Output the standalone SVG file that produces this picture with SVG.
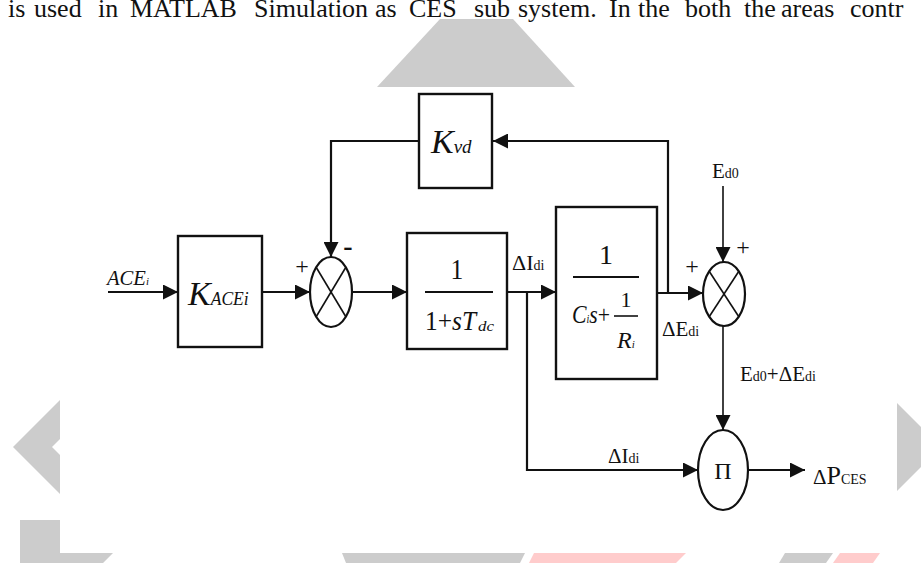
<svg xmlns="http://www.w3.org/2000/svg" width="921" height="563" viewBox="0 0 921 563">
<style>
.wm{fill:#cccccc}
.wp{fill:#ffcccc}
.blk{fill:#fff;stroke:#111;stroke-width:2.4}
.sum{fill:#fff;stroke:#111;stroke-width:2.2}
.ln{fill:none;stroke:#111;stroke-width:2.2}
.thin{fill:none;stroke:#111;stroke-width:1.6}
.t{font-family:"Liberation Serif","Times New Roman",serif;fill:#111}
.i{font-style:italic}
</style>
<defs>
<marker id="ah" viewBox="0 0 14 14" refX="14" refY="7" markerWidth="15" markerHeight="15" markerUnits="userSpaceOnUse" orient="auto">
<path d="M0,0 L14,7 L0,14 z" fill="#111"/>
</marker>
</defs>
<rect width="921" height="563" fill="#fff"/>
<g id="watermark">
<polygon class="wm" points="377,87 440,19 513,19 575,87"/>
<polygon class="wm" points="60,400 13,447 60,494 60,455 52,447 60,439"/>
<polygon class="wm" points="897,403 941,447 897,491"/>
<polygon class="wm" points="20,520 60,520 60,553 113,553 103,563 20,563"/>
<polygon class="wm" points="342,553 525,553 520,563 346,563"/>
<polygon class="wp" points="534,553 686,553 676,563 529,563"/>
<polygon class="wm" points="785,553 833,553 826,563 779,563"/>
<polygon class="wp" points="840,553 880,553 873,563 833,563"/>
</g>
<text class="t" y="17" font-size="26"><tspan x="8">is</tspan><tspan x="34">used</tspan><tspan x="98">in</tspan><tspan x="130">MATLAB</tspan><tspan x="254">Simulation</tspan><tspan x="375">as</tspan><tspan x="409">CES</tspan><tspan x="474">sub</tspan><tspan x="518">system.</tspan><tspan x="609">In</tspan><tspan x="638">the</tspan><tspan x="685">both</tspan><tspan x="744">the</tspan><tspan x="781">areas</tspan><tspan x="850">contr</tspan></text>
<g id="connectors">
<line class="ln" x1="108" y1="292" x2="178" y2="292" marker-end="url(#ah)"/>
<line class="ln" x1="262" y1="292" x2="310" y2="292" marker-end="url(#ah)"/>
<path class="ln" d="M668,293 V141 H493" marker-end="url(#ah)"/>
<path class="ln" d="M419,141 H331 V257" marker-end="url(#ah)"/>
<line class="ln" x1="352" y1="292" x2="407" y2="292" marker-end="url(#ah)"/>
<line class="ln" x1="507" y1="292" x2="556" y2="292" marker-end="url(#ah)"/>
<path class="ln" d="M527,292 V470 H698" marker-end="url(#ah)"/>
<line class="ln" x1="657" y1="293" x2="703" y2="293" marker-end="url(#ah)"/>
<line class="thin" x1="723" y1="186" x2="723" y2="262" marker-end="url(#ah)"/>
<line class="thin" x1="723" y1="326" x2="723" y2="430" marker-end="url(#ah)"/>
<line class="ln" x1="749" y1="470" x2="805" y2="470" marker-end="url(#ah)"/>
</g>
<g id="input">
<text class="t i" x="107" y="285" font-size="21" textLength="42" lengthAdjust="spacingAndGlyphs">ACE<tspan font-size="11">i</tspan></text>
</g>
<g id="kacei">
<rect class="blk" x="178" y="236" width="84" height="111"/>
<text class="t i" x="188" y="305" font-size="34">K<tspan font-size="19" textLength="38" lengthAdjust="spacingAndGlyphs">ACEi</tspan></text>
</g>
<g id="sum1">
<ellipse class="sum" cx="331" cy="292" rx="21" ry="35"/>
<line class="thin" x1="316" y1="267" x2="346" y2="317"/>
<line class="thin" x1="346" y1="267" x2="316" y2="317"/>
<text class="t" x="302" y="274" font-size="24" text-anchor="middle">+</text>
<text class="t" x="348" y="255" font-size="28" font-weight="bold" text-anchor="middle">-</text>
</g>
<g id="kvd">
<rect class="blk" x="419" y="94" width="73" height="94"/>
<text class="t i" x="431" y="153" font-size="34">K<tspan font-size="19">vd</tspan></text>
</g>
<g id="lag">
<rect class="blk" x="407" y="233" width="100" height="116"/>
<text class="t" x="457" y="279" font-size="30" text-anchor="middle" transform="translate(457 0) scale(0.85 1) translate(-457 0)">1</text>
<line class="ln" x1="425" y1="292" x2="493" y2="292"/>
<text class="t" x="425" y="330" font-size="28" textLength="51" lengthAdjust="spacingAndGlyphs">1+<tspan class="i">sT</tspan></text>
<text class="t i" x="478" y="331" font-size="15" textLength="16" lengthAdjust="spacingAndGlyphs">dc</text>
<text class="t" x="512" y="270" font-size="22">ΔI<tspan font-size="14">di</tspan></text>
</g>
<g id="storage">
<rect class="blk" x="556" y="207" width="101" height="172"/>
<text class="t" x="606" y="264" font-size="28" text-anchor="middle">1</text>
<line class="ln" x1="573" y1="277" x2="639" y2="277"/>
<text class="t" x="572" y="323" font-size="26" textLength="38" lengthAdjust="spacingAndGlyphs"><tspan class="i">C</tspan><tspan font-size="12" class="i">i</tspan><tspan class="i">s</tspan>+</text>
<text class="t" x="626" y="307" font-size="22" text-anchor="middle">1</text>
<line class="thin" x1="614" y1="316" x2="638" y2="316"/>
<text class="t i" x="617" y="348" font-size="24">R<tspan font-size="11">i</tspan></text>
</g>
<g id="sum2">
<ellipse class="sum" cx="724" cy="294" rx="21" ry="32"/>
<line class="thin" x1="709" y1="271" x2="739" y2="317"/>
<line class="thin" x1="739" y1="271" x2="709" y2="317"/>
<text class="t" x="692" y="274" font-size="24" text-anchor="middle">+</text>
<text class="t" x="743" y="255" font-size="24" text-anchor="middle">+</text>
<text class="t" x="662" y="336" font-size="21">ΔE<tspan font-size="14">di</tspan></text>
<text class="t" x="712" y="178" font-size="21">E<tspan font-size="14">d0</tspan></text>
<text class="t" x="740" y="381" font-size="21">E<tspan font-size="14">d0</tspan>+ΔE<tspan font-size="14">di</tspan></text>
</g>
<g id="product">
<ellipse class="sum" cx="723" cy="470" rx="25" ry="40"/>
<text class="t" x="723" y="479" font-size="24" text-anchor="middle">Π</text>
<text class="t" x="608" y="463" font-size="21">ΔI<tspan font-size="14">di</tspan></text>
<text class="t" x="813" y="484" font-size="21">Δ<tspan font-size="26">P</tspan><tspan font-size="14">CES</tspan></text>
</g>
</svg>
